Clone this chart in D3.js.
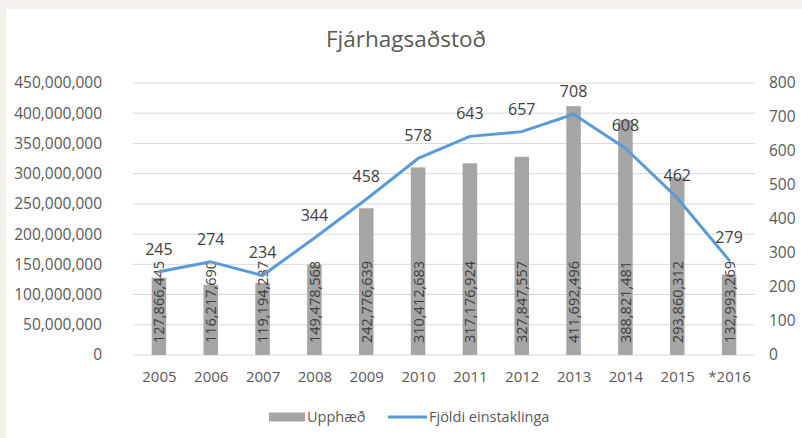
<!DOCTYPE html>
<html>
<head>
<meta charset="utf-8">
<script src="https://cdn.jsdelivr.net/npm/d3@7"></script>
<style>
  body { margin: 0; background: #f4f1ec; }
  svg { display: block; }
</style>
</head>
<body>
<svg></svg>
<script>
var years = ["2005", "2006", "2007", "2008", "2009", "2010", "2011", "2012", "2013", "2014", "2015", "*2016"];
var amounts = [127866445, 116217690, 119194237, 149478568, 242776639, 310412683, 317176924, 327847557, 411692496, 388821481, 293860312, 132993269];
var people = [245, 274, 234, 344, 458, 578, 643, 657, 708, 608, 462, 279];
var leftTicks = [0, 50000000, 100000000, 150000000, 200000000, 250000000, 300000000, 350000000, 400000000, 450000000];
var rightTicks = [0, 100, 200, 300, 400, 500, 600, 700, 800];

var W = 802, H = 438;
var margin = {top: 83, left: 133},
    width = 755 - margin.left,
    height = 355 - margin.top;

var font = "'Open Sans', sans-serif";
var fmt = d3.format(",");

var root = d3.select("svg")
    .attr("width", W)
    .attr("height", H);

// white chart panel
root.append("rect")
    .attr("x", 6).attr("y", 9)
    .attr("width", W - 6).attr("height", H - 9)
    .attr("fill", "#fff");

root.append("text")
    .attr("x", 406).attr("y", 47)
    .attr("text-anchor", "middle")
    .attr("font-family", font)
    .attr("font-size", 22.5)
    .attr("fill", "#595959")
    .text("Fjárhagsaðstoð");

var svg = root.append("g")
    .attr("transform", "translate(" + margin.left + "," + margin.top + ")");

// scales
var x = d3.scaleBand().domain(years).range([0, width]).paddingInner(0.72).paddingOuter(0.36);
var xp = d3.scalePoint().domain(years).range([0, width]).padding(0.5);
var yL = d3.scaleLinear().domain([0, 450000000]).range([height, 0]);
var yR = d3.scaleLinear().domain([0, 800]).range([height, 0]);

// gridlines
svg.append("g")
    .selectAll("line")
    .data(leftTicks)
    .join("line")
    .attr("x1", 0).attr("x2", width)
    .attr("y1", d => yL(d)).attr("y2", d => yL(d))
    .attr("stroke", "#d9d9d9")
    .attr("stroke-width", 1);

// left axis
var axL = svg.append("g")
    .attr("transform", "translate(-31,0)")
    .call(d3.axisLeft(yL).tickValues(leftTicks).tickFormat(fmt).tickSize(0).tickPadding(0));
axL.select(".domain").remove();
axL.selectAll("text").attr("font-family", font).attr("font-size", 15.5).attr("fill", "#595959");

// right axis
var axR = svg.append("g")
    .attr("transform", "translate(" + (width + 14) + ",0)")
    .call(d3.axisRight(yR).tickValues(rightTicks).tickSize(0).tickPadding(0));
axR.select(".domain").remove();
axR.selectAll("text").attr("font-family", font).attr("font-size", 15.5).attr("fill", "#595959");

// bottom axis
var axB = svg.append("g")
    .attr("transform", "translate(0," + height + ")")
    .call(d3.axisBottom(xp).tickSize(0).tickPadding(16));
axB.select(".domain").remove();
axB.selectAll("text").attr("font-family", font).attr("font-size", 15).attr("fill", "#595959");

// bars
svg.append("g")
    .selectAll("rect")
    .data(amounts)
    .join("rect")
    .attr("x", (d, i) => x(years[i]))
    .attr("y", d => yL(d))
    .attr("width", x.bandwidth())
    .attr("height", d => height - yL(d))
    .attr("fill", "#a5a5a5");

// bar labels, rotated inside the bar
svg.append("g")
    .selectAll("text")
    .data(amounts)
    .join("text")
    .attr("transform", (d, i) => "translate(" + (xp(years[i]) + 5.5) + "," + (height - 12) + ") rotate(-90)")
    .attr("font-family", font)
    .attr("font-size", 14.5)
    .attr("fill", "#404040")
    .text(d => fmt(d));

// line
var line = d3.line()
    .x((d, i) => xp(years[i]))
    .y(d => yR(d));

svg.append("path")
    .datum(people)
    .attr("d", line)
    .attr("fill", "none")
    .attr("stroke", "#5b9bd5")
    .attr("stroke-width", 3)
    .attr("stroke-linejoin", "round")
    .attr("stroke-linecap", "round");

svg.append("g")
    .selectAll("text")
    .data(people)
    .join("text")
    .attr("x", (d, i) => xp(years[i]))
    .attr("y", d => yR(d) - 17)
    .attr("text-anchor", "middle")
    .attr("font-family", font)
    .attr("font-size", 16)
    .attr("fill", "#404040")
    .text(d => d);

// legend
var leg = root.append("g").attr("transform", "translate(0,417)");
leg.append("rect")
    .attr("x", 269).attr("y", -4.5)
    .attr("width", 36).attr("height", 9)
    .attr("fill", "#a5a5a5");
leg.append("text")
    .attr("x", 307).attr("y", 5)
    .attr("font-family", font).attr("font-size", 14.5).attr("fill", "#595959")
    .text("Upphæð");
leg.append("line")
    .attr("x1", 388).attr("x2", 427)
    .attr("y1", 0).attr("y2", 0)
    .attr("stroke", "#5b9bd5").attr("stroke-width", 3);
leg.append("text")
    .attr("x", 429).attr("y", 5)
    .attr("font-family", font).attr("font-size", 14.5).attr("fill", "#595959")
    .text("Fjöldi einstaklinga");
</script>
</body>
</html>
